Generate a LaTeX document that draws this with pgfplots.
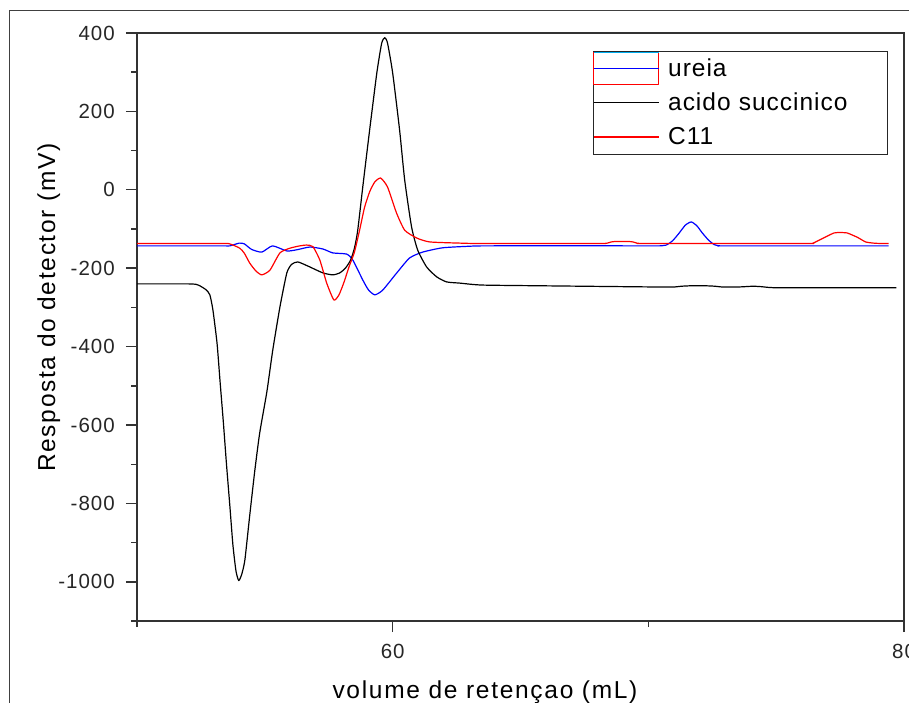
\documentclass[border=0pt]{standalone}
\usepackage{pgfplots}
\pgfplotsset{compat=1.18}
\usepackage{fontspec}
\setmainfont{Liberation Sans}
\newfontfamily\tickfont[LetterSpace=5]{Liberation Sans}
\newfontfamily\labelfont[LetterSpace=7]{Liberation Sans}
\newfontfamily\legfont[LetterSpace=4]{Liberation Sans}

\pgfplotstableread{
x y
50.00 -143
53.30 -143
53.63 -143
54.00 -136
54.20 -138
54.48 -152
54.88 -159
55.30 -143
55.86 -156
56.25 -153
56.76 -146
57.27 -151
57.66 -161
58.20 -164
58.44 -179
58.83 -230
59.05 -255
59.30 -268
59.61 -256
60.16 -212
60.66 -174
61.17 -159
61.95 -148
63.00 -144
63.80 -143
70.20 -143
70.45 -143
70.70 -141
70.95 -130
71.21 -110
71.45 -90
71.68 -82
71.90 -92
72.11 -110
72.35 -128
72.58 -140
72.80 -143
73.05 -143
79.40 -143
}\ureia

\pgfplotstableread{
x y
50.00 -240
51.70 -240
52.00 -240
52.30 -241
52.46 -245
52.70 -255
52.85 -268
52.97 -307
53.13 -391
53.25 -490
53.38 -595
53.50 -700
53.63 -805
53.75 -905
53.87 -972
53.98 -997
54.10 -980
54.22 -944
54.41 -830
54.61 -715
54.80 -620
55.08 -515
55.31 -409
55.59 -299
55.86 -212
56.05 -190
56.29 -184
56.70 -195
57.27 -212
57.66 -217
57.93 -212
58.15 -200
58.35 -180
58.50 -150
58.63 -105
58.83 7
59.10 153
59.38 298
59.57 374
59.69 388
59.80 374
60.00 298
60.27 153
60.47 25
60.74 -95
60.98 -154
61.33 -197
61.72 -222
62.11 -235
62.62 -238
63.50 -243
66.00 -245
70.40 -248
70.70 -248
71.00 -248
71.30 -246
71.60 -245
72.30 -245
72.60 -246
72.90 -248
73.20 -248
73.50 -248
73.80 -247
74.10 -246
74.40 -247
74.70 -249
75.00 -250
75.30 -250
79.70 -250
}\acido

\pgfplotstableread{
x y
50.00 -137
53.30 -137
53.63 -138
54.02 -149
54.20 -162
54.41 -187
54.65 -207
54.88 -217
55.20 -205
55.59 -161
55.98 -149
56.37 -143
56.64 -141
56.88 -145
57.15 -179
57.42 -238
57.70 -281
57.90 -268
58.10 -235
58.30 -195
58.50 -160
58.70 -105
58.90 -45
59.10 -5
59.30 20
59.53 30
59.80 7
60.15 -59
60.47 -103
60.94 -123
61.45 -133
62.62 -136
63.50 -137
68.10 -137
68.25 -137
68.40 -136
68.55 -133
68.70 -132
69.25 -132
69.40 -133
69.55 -136
69.70 -137
69.85 -137
76.10 -137
76.40 -137
76.70 -128
77.00 -118
77.27 -110
77.50 -109
77.77 -110
78.00 -116
78.20 -122
78.50 -133
78.80 -136
79.10 -137
79.40 -137
}\cmisc

\begin{document}
\begin{tikzpicture}[x=1pt,y=1pt]
% page border
\draw[black!75, line width=1pt] (9,691) rectangle (1000,-100);
\begin{axis}[
  at={(137pt,81pt)}, anchor=south west,
  width=767pt, height=588pt, scale only axis,
  xmin=50, xmax=80, ymin=-1100, ymax=400,
  xtick={60,80}, minor xtick={50,70},
  ytick={-1000,-800,...,400}, minor ytick={-1100,-900,...,300},
  tick pos=left, tick align=outside,
  major tick length=11pt, minor tick length=6pt,
  axis line style={black!80, line width=1.4pt},
  every tick/.style={black!80, line width=1.4pt},
  /pgf/number format/assume math mode=true,
  /pgf/number format/1000 sep={},
  tick label style={font=\tickfont\fontsize{20.5}{22}\selectfont, text=black!85},
  yticklabel style={anchor=east, inner sep=0pt, xshift=-11pt},
  xticklabel style={anchor=north, inner sep=0pt, yshift=-12pt},
  xlabel={volume de retençao (mL)},
  ylabel={Resposta do detector (mV)},
  label style={font=\labelfont\fontsize{24.5}{26}\selectfont},
  xlabel style={at={(axis description cs:0.4537,-0.131)}, anchor=base, inner sep=0pt},
  ylabel style={at={(axis description cs:-0.1069,0.533)}, anchor=base, inner sep=0pt},
  legend style={at={(axis description cs:0.5945,0.969)}, anchor=north west,
    draw=black!85, line width=0.9pt, inner sep=0pt, outer sep=0pt,
    row sep=0pt, column sep=0pt,
    font=\legfont\fontsize{24.5}{26}\selectfont,
    nodes={inner sep=0pt, anchor=center, minimum height=34.3pt}},
  /tikz/every odd column/.append style={column sep=9pt},
  /tikz/every even column/.append style={text width=219pt, align=left, text height=17.5pt, text depth=0pt},
  legend image code/.code={\draw[#1, line width=1.2pt] (0pt,0pt) -- (65pt,0pt);},
  every axis plot/.append style={smooth, tension=0.35, line join=round},
]
\addplot[blue, line width=1.2pt,
  legend image code/.code={%
    \draw[red, line width=1.2pt] (0pt,-16pt) rectangle (65pt,16pt);
    \draw[cyan, line width=1.2pt] (0pt,16pt) -- (65pt,16pt);
    \draw[blue, line width=1.2pt] (0pt,0pt) -- (65pt,0pt);}]
  table[x=x, y=y] {\ureia};
\addlegendentry{ureia}
\addplot[black, line width=1.2pt] table[x=x, y=y] {\acido};
\addlegendentry{acido succinico}
\addplot[red, line width=1.2pt] table[x=x, y=y] {\cmisc};
\addlegendentry{C11}
\end{axis}
\pgfresetboundingbox
\path[use as bounding box] (0,0) rectangle (909,702);
\end{tikzpicture}
\end{document}
